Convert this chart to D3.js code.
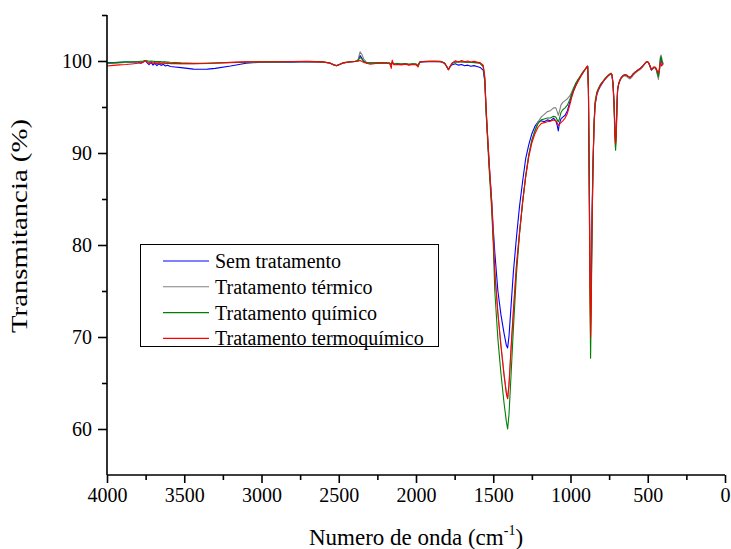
<!DOCTYPE html>
<html>
<head>
<meta charset="utf-8">
<script src="https://cdn.jsdelivr.net/npm/d3@7"></script>
<style>
  body { margin: 0; background: #fff; }
  svg text { font-family: "Liberation Serif", "Times New Roman", serif; fill: #000; }
</style>
</head>
<body>
<svg id="chart" width="731" height="549"></svg>
<script>
// FTIR spectra: wavenumber grid (cm-1) shared by all four samples
const wavenumbers = [
  4000, 3960, 3920, 3880, 3840, 3800, 3780, 3765, 3752, 3740, 3728, 3715, 3702, 3690, 3677, 3664,
  3650, 3636, 3622, 3608, 3590, 3560, 3520, 3480, 3440, 3400, 3350, 3300, 3200, 3100, 3000,
  2900, 2800, 2700, 2600, 2560, 2535, 2515, 2495, 2470, 2430, 2395, 2375, 2362, 2350, 2338, 2320,
  2295, 2260, 2225, 2190, 2170, 2160, 2154, 2145, 2120, 2095, 2070, 2045, 2020, 1998, 1987, 1976,
  1955, 1920, 1880, 1840, 1815, 1800, 1790, 1780, 1765, 1745, 1725, 1705, 1685, 1665, 1645, 1625,
  1605, 1585,
  1565, 1555, 1545, 1535, 1525, 1510, 1500, 1490, 1470, 1450, 1430, 1415, 1407, 1398, 1385, 1370,
  1350, 1330, 1310, 1290, 1270, 1250, 1230, 1210, 1190, 1170, 1150, 1130, 1110, 1095, 1086, 1079,
  1072, 1062, 1050, 1035, 1020, 1005, 993, 980, 965, 950, 935, 920, 905, 895, 889, 884, 879, 874,
  870, 866, 861, 855, 848, 841, 830, 820, 805, 788, 772, 756, 745, 738, 732, 725, 718, 712, 708,
  704, 699, 695, 688, 680, 670, 659, 648, 636, 625, 615, 605, 594, 580, 565, 551, 535, 518, 508,
  501, 492, 483, 476, 468, 460, 453, 445, 438, 431, 424, 418, 414, 410, 405, 400
];

// Transmittance (%) — Sem tratamento
const semTratamento = [
  99.80, 99.82, 99.85, 99.88, 99.85, 99.90, 99.75, 99.95, 100.05, 99.80, 99.60, 99.85, 99.55, 99.75, 99.50, 99.70,
  99.52, 99.65, 99.45, 99.55, 99.40, 99.35, 99.28, 99.20, 99.12, 99.10, 99.12, 99.20, 99.45, 99.75, 99.88,
  99.90, 99.88, 99.92, 99.88, 99.78, 99.60, 99.48, 99.62, 99.80, 99.90, 99.95, 100.05, 100.60, 100.30, 99.95, 99.80,
  99.78, 99.80, 99.80, 99.78, 99.75, 99.60, 99.85, 99.65, 99.70, 99.62, 99.70, 99.60, 99.68, 99.62, 99.45, 99.85,
  99.90, 99.92, 99.95, 99.92, 99.75, 99.35, 99.05, 99.35, 99.60, 99.70, 99.55, 99.62, 99.48, 99.55, 99.42, 99.50,
  99.40, 99.30,
  99.00, 97.80, 94.20, 91.30, 88.50, 84.80, 81.80, 79.20, 75.00, 72.40, 70.40, 69.10, 68.80, 70.10, 73.30, 77.00,
  80.80, 84.20, 86.90, 89.40, 90.90, 92.10, 92.90, 93.40, 93.50, 93.40, 93.60, 93.50, 93.80, 93.50, 93.00, 92.40,
  93.20, 93.70, 93.90, 94.10, 94.60, 95.50, 96.20, 96.80, 97.40, 97.90, 98.30, 98.70, 99.10, 99.30, 99.40, 97.00, 88.00, 78.00,
  73.80, 76.50, 83.00, 88.50, 92.80, 95.20, 96.30, 96.80, 97.30, 97.75, 98.10, 98.40, 98.55, 98.65, 98.50, 97.60, 95.50, 92.50, 91.20,
  92.50, 95.50, 96.90, 97.50, 97.90, 98.20, 98.40, 98.50, 98.45, 98.30, 98.20, 98.35, 98.60, 98.80, 99.00, 99.15, 99.40, 99.75, 99.90,
  99.92, 99.70, 99.30, 99.00, 99.15, 99.30, 99.30, 99.10, 98.70, 98.40, 99.00, 100.10, 100.30, 99.90, 99.60, 99.70
];

// Transmittance (%) — Tratamento térmico
const tratTermico = [
  99.70, 99.75, 99.80, 99.85, 99.88, 99.90, 99.92, 99.95, 100.02, 99.95, 99.85, 99.90, 99.88, 99.85, 99.82, 99.85,
  99.80, 99.82, 99.80, 99.78, 99.76, 99.74, 99.72, 99.72, 99.72, 99.72, 99.73, 99.76, 99.82, 99.88, 99.90,
  99.90, 99.92, 99.93, 99.88, 99.78, 99.60, 99.48, 99.62, 99.80, 99.90, 99.95, 100.15, 101.00, 100.70, 100.20, 99.85,
  99.80, 99.82, 99.82, 99.80, 99.78, 99.65, 99.85, 99.68, 99.72, 99.68, 99.72, 99.65, 99.70, 99.66, 99.50, 99.88,
  99.92, 99.95, 99.97, 99.95, 99.78, 99.38, 99.08, 99.40, 99.75, 99.88, 99.90, 99.88, 99.86, 99.85, 99.84, 99.82,
  99.80, 99.72,
  99.40, 98.20, 94.40, 91.30, 88.30, 84.50, 81.00, 77.30, 72.60, 69.10, 66.00, 64.00, 63.30, 64.80, 68.50, 72.60,
  77.60, 81.40, 84.60, 87.50, 89.80, 91.40, 92.50, 93.40, 93.90, 94.20, 94.50, 94.60, 94.90, 94.90, 94.50, 94.10,
  94.50, 95.20, 95.50, 95.70, 95.90, 96.20, 96.60, 97.10, 97.60, 98.00, 98.40, 98.80, 99.10, 99.35, 99.45, 97.00, 88.00, 76.50,
  71.50, 75.00, 82.00, 88.00, 92.80, 95.30, 96.40, 96.90, 97.40, 97.80, 98.10, 98.40, 98.55, 98.65, 98.50, 97.60, 95.30, 92.00, 90.80,
  92.20, 95.30, 96.90, 97.50, 97.85, 98.15, 98.35, 98.40, 98.30, 98.15, 98.05, 98.20, 98.45, 98.70, 98.90, 99.05, 99.30, 99.70, 99.88,
  99.90, 99.70, 99.35, 99.05, 99.20, 99.30, 99.25, 99.00, 98.50, 98.00, 99.00, 100.50, 100.65, 100.40, 99.90, 99.80
];

// Transmittance (%) — Tratamento químico
const tratQuimico = [
  99.75, 99.80, 99.85, 99.90, 99.92, 99.95, 99.98, 100.00, 100.05, 100.02, 99.98, 100.00, 99.98, 99.96, 99.95, 99.95,
  99.93, 99.92, 99.90, 99.88, 99.86, 99.84, 99.80, 99.78, 99.76, 99.75, 99.75, 99.78, 99.84, 99.88, 99.90,
  99.90, 99.92, 99.93, 99.90, 99.80, 99.62, 99.50, 99.62, 99.82, 99.92, 99.95, 100.05, 100.40, 100.20, 99.95, 99.80,
  99.80, 99.80, 99.82, 99.80, 99.78, 99.62, 99.85, 99.68, 99.72, 99.66, 99.72, 99.64, 99.70, 99.66, 99.48, 99.90,
  99.95, 99.97, 99.98, 99.96, 99.78, 99.38, 99.08, 99.40, 99.78, 99.90, 99.92, 99.92, 99.90, 99.88, 99.86, 99.85,
  99.82, 99.75,
  99.40, 98.00, 94.00, 90.80, 87.80, 83.80, 80.20, 75.00, 69.80, 66.00, 62.80, 60.80, 60.00, 61.60, 65.80, 70.80,
  76.80, 81.20, 84.60, 87.50, 89.80, 91.40, 92.40, 93.20, 93.60, 93.70, 93.80, 93.80, 94.00, 93.90, 93.60, 93.40,
  93.70, 94.40, 94.70, 94.90, 95.20, 95.80, 96.40, 97.00, 97.60, 98.00, 98.40, 98.80, 99.10, 99.35, 99.45, 96.80, 87.00, 74.50,
  67.70, 72.50, 81.00, 88.00, 93.20, 95.60, 96.60, 97.00, 97.50, 97.85, 98.20, 98.45, 98.60, 98.65, 98.50, 97.50, 95.00, 91.20, 90.30,
  91.80, 95.00, 96.90, 97.60, 97.95, 98.25, 98.45, 98.50, 98.45, 98.30, 98.20, 98.35, 98.60, 98.80, 99.00, 99.15, 99.40, 99.75, 99.90,
  99.92, 99.75, 99.35, 99.05, 99.20, 99.35, 99.30, 99.10, 98.70, 98.30, 99.10, 100.30, 100.45, 100.10, 99.80, 99.75
];

// Transmittance (%) — Tratamento termoquímico
const tratTermoquimico = [
  99.45, 99.52, 99.58, 99.62, 99.68, 99.75, 99.80, 99.85, 100.05, 99.85, 99.75, 99.90, 99.72, 99.85, 99.70, 99.82,
  99.68, 99.80, 99.70, 99.75, 99.72, 99.72, 99.72, 99.72, 99.72, 99.73, 99.75, 99.78, 99.85, 99.90, 99.92,
  99.92, 99.95, 99.96, 99.90, 99.80, 99.60, 99.48, 99.62, 99.80, 99.90, 99.95, 99.97, 100.05, 99.95, 99.85, 99.75,
  99.65, 99.72, 99.78, 99.75, 99.70, 99.20, 100.10, 99.60, 99.62, 99.58, 99.66, 99.55, 99.62, 99.58, 99.35, 99.90,
  99.95, 99.98, 99.96, 99.93, 99.75, 99.35, 99.05, 99.38, 99.80, 100.02, 99.90, 100.05, 99.92, 100.00, 99.90, 99.98,
  99.88, 99.82,
  99.55, 98.30, 94.50, 91.40, 88.50, 84.50, 80.80, 77.00, 72.60, 69.00, 65.80, 63.80, 63.30, 64.90, 68.80, 72.80,
  77.80, 81.30, 84.70, 87.40, 89.60, 91.10, 92.10, 92.80, 93.20, 93.30, 93.40, 93.45, 93.60, 93.50, 93.30, 93.00,
  93.10, 93.30, 93.50, 93.80, 94.30, 95.20, 96.00, 96.70, 97.30, 97.80, 98.30, 98.70, 99.10, 99.35, 99.45, 97.00, 87.50, 75.50,
  70.00, 74.00, 81.50, 88.00, 92.80, 95.30, 96.40, 96.90, 97.40, 97.80, 98.10, 98.40, 98.55, 98.65, 98.50, 97.60, 95.30, 92.00, 91.00,
  92.30, 95.30, 96.90, 97.50, 97.90, 98.20, 98.40, 98.50, 98.45, 98.30, 98.20, 98.35, 98.60, 98.80, 99.00, 99.15, 99.40, 99.75, 99.92,
  99.93, 99.75, 99.35, 99.05, 99.20, 99.35, 99.35, 99.20, 98.90, 98.70, 99.30, 99.80, 99.70, 99.45, 99.60, 99.75
];

const seriesNames = ["Sem tratamento", "Tratamento térmico", "Tratamento químico", "Tratamento termoquímico"];
const seriesColors = ["#0000ff", "#808080", "#008000", "#ff0000"];
const xTicks = [4000, 3500, 3000, 2500, 2000, 1500, 1000, 500, 0];
const xMinorTicks = [3750, 3250, 2750, 2250, 1750, 1250, 750, 250];
const yTicks = [60, 70, 80, 90, 100];
const yMinorTicks = [65, 75, 85, 95, 105];

const serif = "'Liberation Serif', 'Times New Roman', serif";
const svg = d3.select("#chart");
const x = d3.scaleLinear().domain([4000, 0]).range([107, 725]);
const y = d3.scaleLinear().domain([55, 105]).range([475, 15]);

// spectra, red drawn last so it sits on top
const allSeries = [semTratamento, tratTermico, tratQuimico, tratTermoquimico];
const line = d3.line()
  .x((d, i) => x(wavenumbers[i]))
  .y(d => y(d));

svg.append("g")
  .selectAll("path")
  .data(allSeries)
  .join("path")
  .attr("fill", "none")
  .attr("stroke", (d, i) => seriesColors[i])
  .attr("stroke-width", 1.1)
  .attr("stroke-linejoin", "round")
  .attr("d", line);

// axes: major ticks with labels, minor ticks without
function styleAxis(g) {
  g.attr("font-family", serif);
  g.selectAll("line").attr("stroke", "#000").attr("stroke-width", 1.6);
  g.selectAll(".domain").remove();
}
svg.append("g").attr("transform", "translate(0,475)")
  .call(d3.axisBottom(x).tickValues(xTicks).tickSize(8).tickPadding(5).tickFormat(d3.format("d")))
  .call(styleAxis);
svg.append("g").attr("transform", "translate(0,475)")
  .call(d3.axisBottom(x).tickValues(xMinorTicks).tickSize(5).tickFormat(""))
  .call(styleAxis);
svg.append("g").attr("transform", "translate(107,0)")
  .call(d3.axisLeft(y).tickValues(yTicks).tickSize(9).tickPadding(6).tickFormat(d3.format("d")))
  .call(styleAxis);
svg.append("g").attr("transform", "translate(107,0)")
  .call(d3.axisLeft(y).tickValues(yMinorTicks).tickSize(5).tickFormat(""))
  .call(styleAxis);

// axis lines
svg.append("path")
  .attr("d", `M${x(4000)},${y(55)}H${x(0)}M${x(4000)},${y(55)}V${y(105)}`)
  .attr("fill", "none").attr("stroke", "#000").attr("stroke-width", 1.6);

svg.selectAll(".tick text")
  .attr("font-size", 20)
  .attr("fill", "#000")
  .style("font-family", serif);

// axis titles
const xTitle = svg.append("text")
  .attr("x", 416).attr("y", 545)
  .attr("text-anchor", "middle")
  .attr("font-size", 23)
  .style("font-family", serif);
xTitle.append("tspan").text("Numero de onda (cm");
xTitle.append("tspan").attr("font-size", 14).attr("dy", -10).text("-1");
xTitle.append("tspan").attr("dy", 10).text(")");

svg.append("text")
  .attr("transform", "translate(27,226) rotate(-90)")
  .attr("text-anchor", "middle")
  .attr("font-size", 23)
  .attr("textLength", 214)
  .attr("lengthAdjust", "spacingAndGlyphs")
  .style("font-family", serif)
  .text("Transmitancia (%)");

// legend
const legend = svg.append("g");
legend.append("rect")
  .attr("x", 140.5).attr("y", 244.5).attr("width", 298).attr("height", 102)
  .attr("fill", "#fff").attr("stroke", "#000").attr("stroke-width", 1);
const rows = legend.selectAll("g.row")
  .data(seriesNames)
  .join("g")
  .attr("class", "row")
  .attr("transform", (d, i) => `translate(0,${261 + i * 25.8})`);
rows.append("line")
  .attr("x1", 163).attr("x2", 209)
  .attr("stroke", (d, i) => seriesColors[i]).attr("stroke-width", 1.1);
rows.append("text")
  .attr("x", 215).attr("y", 7)
  .attr("font-size", 20)
  .style("font-family", serif)
  .text(d => d);
</script>
</body>
</html>
